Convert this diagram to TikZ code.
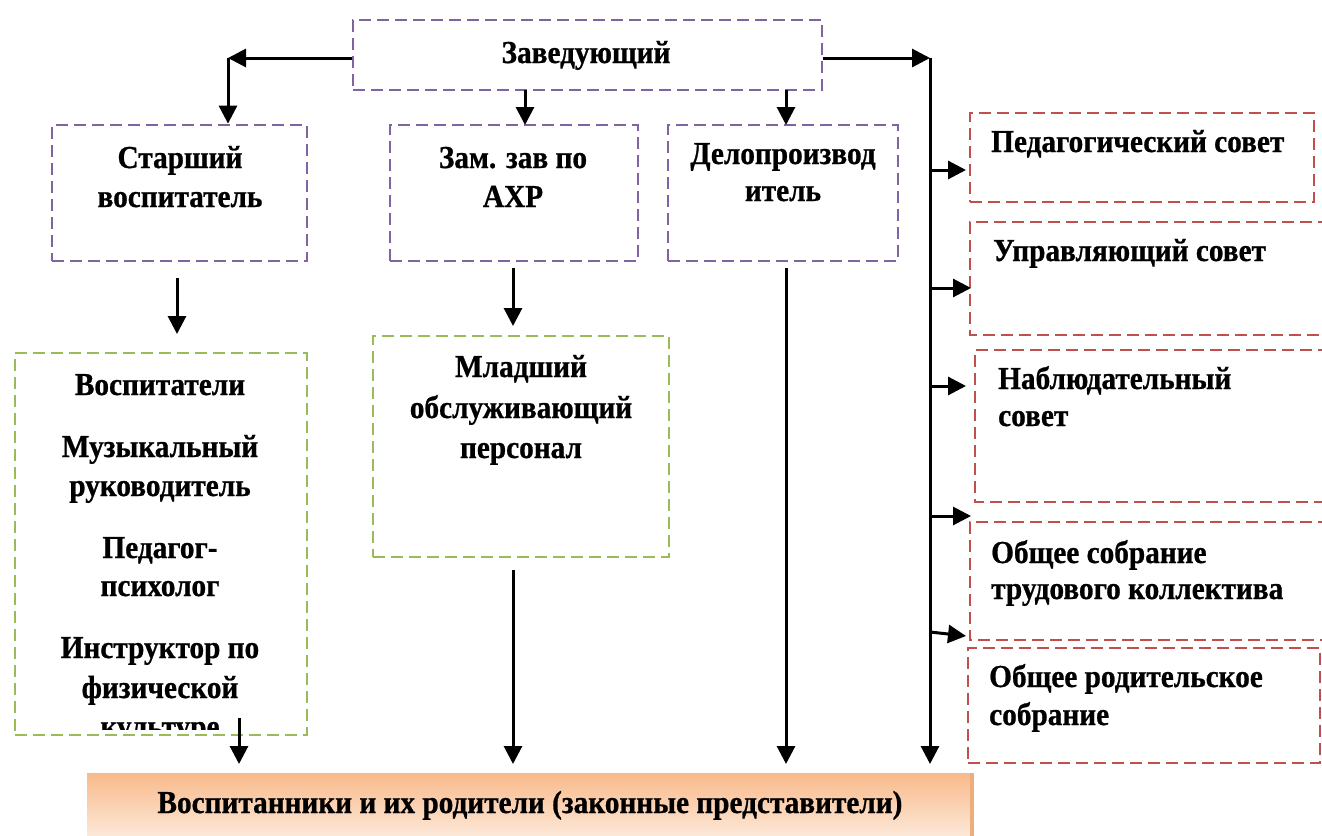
\documentclass[tikz,border=0pt]{standalone}
\usepackage{fontspec}
\setmainfont{Liberation Serif}[BoldFeatures={FakeStretch=0.915,FakeBold=0.8}]
\usetikzlibrary{arrows.meta}
\definecolor{purp}{HTML}{8064A2}
\definecolor{grn}{HTML}{9BBB59}
\definecolor{rd}{HTML}{C0504D}
\definecolor{orA}{HTML}{F8BA8A}
\definecolor{orB}{HTML}{FDEBDD}
\tikzset{
  box/.style={draw, line width=2.8pt, dash pattern=on 12pt off 6pt, inner sep=0pt},
  pbox/.style={box, draw=purp},
  gbox/.style={box, draw=grn},
  rbox/.style={box, draw=rd},
  arr/.style={line width=3pt, -{Triangle[length=18pt,width=18pt]}},
  txt/.style={font=\fontsize{32}{38}\selectfont\bfseries, inner sep=0pt, anchor=base},
  ltxt/.style={txt, anchor=base west},
}
\begin{document}
\begin{tikzpicture}[x=1pt,y=-1pt]
\useasboundingbox (0,0) rectangle (1322,835);
% boxes
\node[pbox, minimum width=469pt, minimum height=70pt] (zav) at (587.5,55) {};
\node[pbox, minimum width=255pt, minimum height=136pt] (star) at (179.5,193) {};
\node[pbox, minimum width=248pt, minimum height=136pt] (zam) at (514,193) {};
\node[pbox, minimum width=230pt, minimum height=136pt] (delo) at (783,193) {};
\node[gbox, minimum width=292pt, minimum height=382pt] (vosp) at (161,544) {};
\node[gbox, minimum width=296pt, minimum height=221pt] (mlad) at (521,446.5) {};
\node[rbox, minimum width=344pt, minimum height=89pt] (ped) at (1142,157.5) {};
\draw[rbox] (1330,222) -- (970,222) -- (970,335) -- (1330,335);
\coordinate (upr) at (970,278);
\draw[rbox] (1330,350) -- (975,350) -- (975,502) -- (1330,502);
\coordinate (nab) at (975,426);
\draw[rbox] (1330,522) -- (970,522) -- (970,640) -- (1330,640);
\coordinate (obs) at (970,581);
\node[rbox, minimum width=352pt, minimum height=115pt] (rod) at (1144,705.5) {};
% bottom box
\shade[top color=orA, bottom color=orB] (87,773) rectangle (973,840);
\fill[orA!80!brown] (970,773) rectangle (974,840);
\node[inner sep=0pt, minimum width=886pt, minimum height=62pt] (bot) at (530,804) {};
% texts
\node[txt] (t0) at (586,63) {Заведующий};
\node[txt] (t1) at (180,168) {Старший};
\node[txt] (t2) at (180,207) {воспитатель};
\node[txt] (t3) at (513,168) {Зам. зав по};
\node[txt] (t4) at (513,207) {АХР};
\node[txt] (t5) at (783,164) {Делопроизвод};
\node[txt] (t6) at (783,201) {итель};
\node[ltxt] (t7) at (991,152) {Педагогический совет};
\node[ltxt] (t8) at (993,261) {Управляющий совет};
\node[ltxt] (t9) at (998,389) {Наблюдательный};
\node[ltxt] (t10) at (998,426) {совет};
\node[ltxt] (t11) at (991,563) {Общее собрание};
\node[ltxt] (t12) at (991,599) {трудового коллектива};
\node[ltxt] (t13) at (989,687) {Общее родительское};
\node[ltxt] (t14) at (989,725) {собрание};
\node[txt] (t15) at (160,395) {Воспитатели};
\node[txt] (t16) at (160,457) {Музыкальный};
\node[txt] (t17) at (160,496) {руководитель};
\node[txt] (t18) at (160,558) {Педагог-};
\node[txt] (t19) at (160,596) {психолог};
\node[txt] (t20) at (160,658) {Инструктор по};
\node[txt] (t21) at (160,698) {физической};
\begin{scope}
\clip (20,700) rectangle (300,729);
\node[txt] (t22) at (160,737) {культуре};
\end{scope}
\node[txt] (t23) at (521,377) {Младший};
\node[txt] (t24) at (521,418) {обслуживающий};
\node[txt] (t25) at (521,458) {персонал};
\node[txt] (t26) at (530,813) {Воспитанники и их родители (законные представители)};
% connectors
\coordinate (cl) at (228,58);
\coordinate (cr) at (930,58);
\draw[arr] (zav.west |- cl) -- (cl);
\draw[arr] (cl) -- (cl |- star.north);
\coordinate (z1) at (525,90);
\draw[arr] (z1) -- (525,125);
\coordinate (z2) at (786,90);
\draw[arr] (z2) -- (786,125);
\draw[arr] (zav.east |- cr) -- (cr);
\draw[arr] (cr) -- (930,764);
\coordinate (s1) at (177,278);
\draw[arr] (s1) -- (177,334);
\coordinate (s2) at (513,268);
\draw[arr] (s2) -- (513,326);
\coordinate (s3) at (786,268);
\draw[arr] (s3) -- (786,764);
\coordinate (s4) at (513,570);
\draw[arr] (s4) -- (513,764);
\coordinate (s5) at (239,718);
\draw[arr] (s5) -- (239,764);
\coordinate (b1) at (930,170);
\draw[arr] (b1) -- (966,170);
\coordinate (b2) at (930,288);
\draw[arr] (b2) -- (971,288);
\coordinate (b3) at (930,386);
\draw[arr] (b3) -- (966,386);
\coordinate (b4) at (930,516);
\draw[arr] (b4) -- (971,516);
\coordinate (b5) at (930,632);
\draw[arr] (b5) -- (966,636);
\end{tikzpicture}
\end{document}
